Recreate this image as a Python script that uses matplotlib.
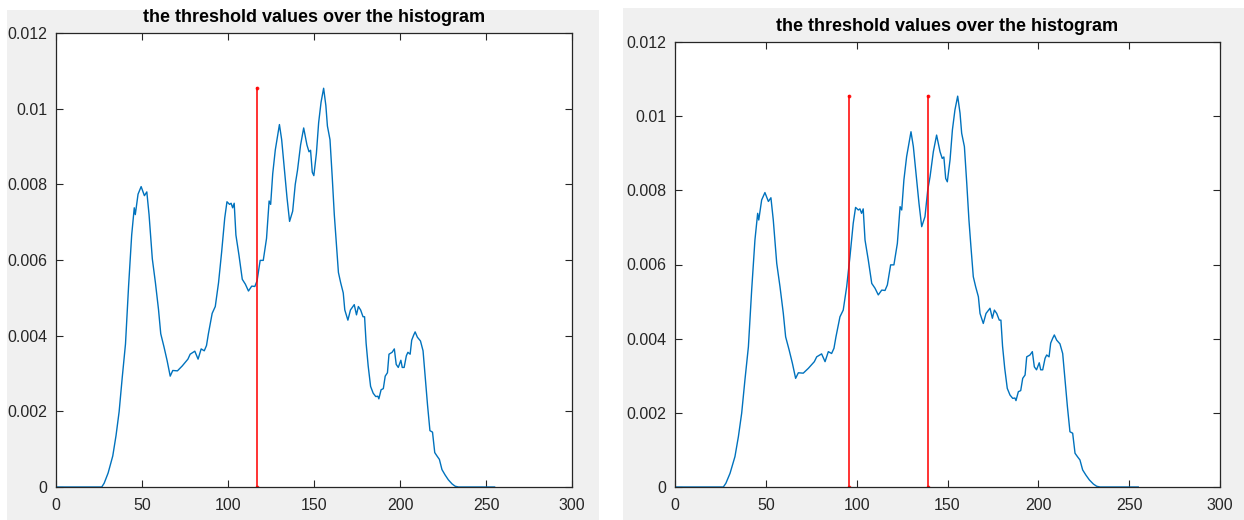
import matplotlib
matplotlib.use("Agg")
import matplotlib.pyplot as plt
from matplotlib.patches import Rectangle

# ---- data ----
gray_level = [0, 25, 26.6, 28, 30.3, 33, 34.9, 36.7, 38.5, 40.4, 42.2, 44, 45.5, 46.1, 47.7,
              49.5, 51.4, 52.8, 54.1, 56, 57.8, 59.6, 60.9, 62.8, 64.6, 66.4, 67.9, 70.6,
              73.4, 76.7, 78, 80.7, 82.6, 84.4, 86.2, 87.5, 88.6, 90.8, 92.6, 94.5, 96.3,
              98.1, 99.4, 100.9, 101.8, 102.7, 103.6, 104.6, 106.4, 108.3, 110.1, 111.9,
              113.8, 115.6, 116.9, 118.7, 120.5, 122.4, 123.9, 124.8, 126, 127.5, 129.9,
              131.2, 133, 134.3, 135.8, 137.6, 139.1, 140.4, 142.2, 144, 145.9, 147.1, 148,
              149, 149.9, 151.4, 152.7, 154.1, 155.6, 156.9, 157.8, 159.3, 160.6, 161.8,
              162.9, 164.2, 165.5, 167, 167.9, 169.7, 171.2, 173.4, 174.7, 175.8, 177.1,
              178.5, 179.4, 180.3, 181.5, 182.9, 184.4, 185.9, 187.1, 187.7, 189, 190.3,
              191.4, 192.7, 193.6, 195.4, 196.7, 197.8, 199, 200.5, 201.3, 202.4, 203.7,
              204.6, 205.9, 206.8, 207.9, 208.8, 210.1, 211.9, 213.4, 214.7, 216, 217.4,
              218.9, 220.2, 221.5, 222.9, 224.4, 226.2, 228.1, 230.3, 232.1, 234, 255]
probability = [0, 0, 0, 0.0001, 0.00037, 0.00082, 0.00136, 0.00199, 0.00289, 0.00378, 0.00531,
               0.00666, 0.00738, 0.0072, 0.00774, 0.00794, 0.0077, 0.0078, 0.0072, 0.00603,
               0.0054, 0.00469, 0.00405, 0.0037, 0.00334, 0.00293, 0.00308, 0.00307, 0.0032,
               0.00338, 0.00351, 0.00359, 0.00338, 0.00365, 0.0036, 0.00374, 0.00405, 0.00459,
               0.00477, 0.0054, 0.00621, 0.00711, 0.00754, 0.00747, 0.0075, 0.00738, 0.0075,
               0.00666, 0.00612, 0.00549, 0.00536, 0.00518, 0.00531, 0.0053, 0.00545, 0.00599,
               0.00599, 0.00657, 0.00756, 0.00747, 0.00828, 0.00891, 0.00958, 0.00918, 0.00828,
               0.00765, 0.00702, 0.00729, 0.008, 0.00837, 0.00904, 0.00949, 0.00904, 0.00886,
               0.0089, 0.00832, 0.00823, 0.00882, 0.00963, 0.01017, 0.01054, 0.01008, 0.00954,
               0.00918, 0.00819, 0.0072, 0.00648, 0.00567, 0.0054, 0.00513, 0.00468, 0.00441,
               0.00468, 0.00482, 0.00455, 0.00477, 0.00468, 0.0045, 0.0045, 0.0038, 0.0032,
               0.00266, 0.00248, 0.00239, 0.0024, 0.00233, 0.00257, 0.0026, 0.00293, 0.00302,
               0.00351, 0.00356, 0.00365, 0.00324, 0.00316, 0.00335, 0.00316, 0.00316, 0.00347,
               0.00356, 0.00351, 0.00388, 0.00401, 0.0041, 0.00396, 0.00386, 0.0036, 0.00289,
               0.00217, 0.00149, 0.00145, 0.00091, 0.00082, 0.00073, 0.00046, 0.00032, 0.00019,
               0.00008, 0.00002, 0, 0]
thresholds_left = [117]
thresholds_right = [96, 139]
x_ticks = [0, 50, 100, 150, 200, 250, 300]
x_tick_labels = ["0", "50", "100", "150", "200", "250", "300"]
y_ticks = [0, 0.002, 0.004, 0.006, 0.008, 0.010, 0.012]
y_tick_labels = ["0", "0.002", "0.004", "0.006", "0.008", "0.01", "0.012"]
title_text = "the threshold values over the histogram"

W, H = 1244, 520
fig = plt.figure(figsize=(W / 100, H / 100), dpi=100, facecolor="white")

panel_gray = "#F0F0F0"
fig.patches.append(Rectangle((7 / W, 0), (599 - 7) / W, (520 - 10) / H,
                             transform=fig.transFigure, facecolor=panel_gray,
                             edgecolor="none", zorder=-10))
fig.patches.append(Rectangle((623 / W, 0), (1244 - 623) / W, (520 - 8) / H,
                             transform=fig.transFigure, facecolor=panel_gray,
                             edgecolor="none", zorder=-10))

ax_l = fig.add_axes([56 / W, (H - 487) / H, (572 - 56) / W, (487 - 33) / H])
ax_r = fig.add_axes([675 / W, (H - 487) / H, (1220 - 675) / W, (487 - 42) / H])

txt = "#262626"
peak = max(probability)
for ax, thr in ((ax_l, thresholds_left), (ax_r, thresholds_right)):
    ax.set_facecolor("white")
    ax.plot(gray_level, probability, color="#0072BD", linewidth=1.0)
    for t in thr:
        ax.plot([t, t], [0, peak], color="#FF0000", linewidth=1.4,
                marker=".", markersize=3.5, alpha=0.8)
    ax.set_xlim(0, 300)
    ax.set_ylim(0, 0.012)
    ax.set_xticks(x_ticks)
    ax.set_xticklabels(x_tick_labels)
    ax.set_yticks(y_ticks)
    ax.set_yticklabels(y_tick_labels)
    ax.tick_params(direction="in", length=5, width=0.8, colors=txt,
                   top=True, right=True, labelsize=11.5)
    ax.tick_params(axis="x", pad=8)
    ax.tick_params(axis="y", pad=6)
    for lab in ax.get_xticklabels() + ax.get_yticklabels():
        lab.set_fontfamily("Liberation Sans")
    for sp in ax.spines.values():
        sp.set_color(txt)
        sp.set_linewidth(0.9)
    ax.set_title(title_text, fontfamily="Liberation Sans", fontweight="bold",
                 fontsize=13, color="black", pad=8)

fig.savefig("out.png", dpi=100, facecolor="white")
